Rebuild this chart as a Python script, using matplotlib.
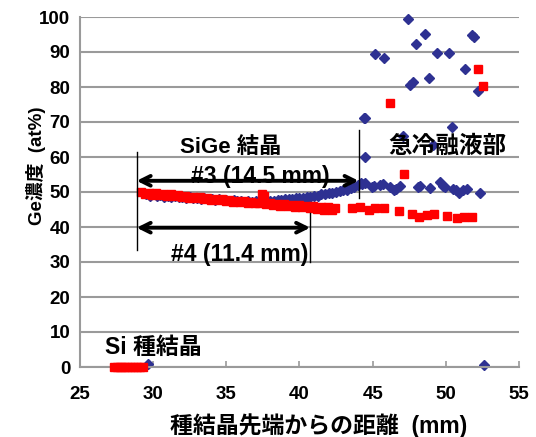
import matplotlib
matplotlib.use("Agg")
import matplotlib.pyplot as plt

plt.rcParams['font.family'] = ['Liberation Sans', 'Noto Sans CJK JP', 'DejaVu Sans']
plt.rcParams['font.weight'] = 'bold'

# ---- data ----
blue_dense_x = [29.5, 29.75, 30.0, 30.25, 30.5, 30.75, 31.0, 31.25, 31.5, 31.75,
                32.0, 32.25, 32.5, 32.75, 33.0, 33.25, 33.5, 33.75, 34.0, 34.25,
                34.5, 34.75, 35.0, 35.25, 35.5, 35.75, 36.0, 36.25, 36.5, 36.75,
                37.0, 37.25, 37.5, 37.75, 38.0, 38.25, 38.5, 38.75, 39.0, 39.25,
                39.5, 39.75, 40.0, 40.25, 40.5, 40.75, 41.0, 41.25, 41.5, 41.75,
                42.0, 42.25, 42.5, 42.75, 43.0, 43.25, 43.5, 43.75, 44.0, 44.2]
blue_dense_y = [49.4, 49.0, 49.3, 48.9, 49.1, 48.7, 49.0, 48.6, 48.9, 48.5,
                48.7, 48.4, 48.6, 48.2, 48.4, 48.1, 48.2, 47.9, 48.1, 47.7,
                47.9, 47.6, 47.8, 47.4, 47.6, 47.3, 47.5, 47.2, 47.4, 47.1,
                47.3, 47.1, 47.3, 47.3, 47.4, 47.5, 47.6, 47.7, 47.9, 47.9,
                48.1, 48.2, 48.4, 48.4, 48.7, 48.7, 49.0, 49.0, 49.3, 49.4,
                49.6, 49.7, 50.0, 50.2, 50.5, 50.7, 51.2, 51.5, 52.1, 52.5]

blue_sparse_x = [29.65, 52.6,
                 44.27, 44.5, 44.95, 45.1, 45.52, 45.7, 46.2, 46.43, 46.6, 46.9,
                 48.1, 48.26, 48.94, 49.58, 49.8, 49.97, 50.5, 50.7, 50.9, 51.2,
                 51.45, 52.36,
                 47.39, 45.18, 45.75, 47.98, 48.6, 49.4, 50.19, 51.79, 51.95, 51.33,
                 48.83, 47.57, 47.75, 52.18, 44.38, 44.5, 50.4, 47.1, 44.5, 49.1]
blue_sparse_y = [0.8, 0.5,
                 52.3, 52.6, 51.5, 51.7, 52.0, 52.2, 51.5, 50.6, 50.9, 51.7,
                 51.5, 51.7, 51.1, 52.9, 51.8, 51.5, 51.0, 50.5, 49.6, 50.5,
                 51.0, 49.8,
                 99.4, 89.3, 88.2, 92.4, 95.2, 89.6, 89.6, 94.9, 94.2, 85.2,
                 82.5, 80.6, 81.5, 78.9, 71.1, 71.1, 68.5, 66.0, 60.1, 63.5]

red_dense_x = [29.2, 29.45, 29.7, 29.95, 30.2, 30.45, 30.7, 30.95, 31.2, 31.45,
               31.7, 31.95, 32.2, 32.45, 32.7, 32.95, 33.2, 33.45, 33.7, 33.95,
               34.2, 34.45, 34.7, 34.95, 35.2, 35.45, 35.7, 35.95, 36.2, 36.45,
               36.7, 36.95, 37.2, 37.45, 37.6, 37.7, 37.95, 38.2, 38.45, 38.7,
               38.95, 39.2, 39.45, 39.7, 39.95, 40.2, 40.45, 40.7, 40.95, 41.2,
               41.45, 41.7, 41.95, 42.2, 42.45]
red_dense_y = [49.9, 49.4, 49.8, 49.2, 49.6, 49.1, 49.5, 48.9, 49.3, 48.8,
               49.1, 48.6, 48.9, 48.4, 48.7, 48.2, 48.5, 48.0, 48.3, 47.8,
               48.1, 47.6, 47.9, 47.4, 47.7, 47.2, 47.5, 47.1, 47.3, 46.9,
               47.2, 46.8, 47.0, 49.3, 49.0, 46.6, 46.9, 46.4, 46.7, 46.1,
               46.5, 46.0, 46.3, 45.8, 46.4, 45.6, 46.1, 45.4, 46.0, 45.2,
               45.8, 45.0, 45.6, 44.8, 45.3]

red_seed_x = [27.3, 27.5, 27.7, 27.9, 28.1, 28.3, 28.5, 28.7, 28.9, 29.1, 29.3]
red_seed_y = [0, 0, 0, 0, 0, 0, 0, 0, 0, 0, 0]

red_sparse_x = [43.58, 44.15, 44.72, 45.18, 45.75, 46.77, 47.69, 48.14, 48.71, 49.17,
                50.08, 50.77, 51.22, 51.79, 47.16, 46.2, 52.2, 52.54]
red_sparse_y = [45.3, 45.8, 44.9, 45.5, 45.3, 44.6, 43.7, 42.9, 43.4, 43.7,
                43.2, 42.5, 42.8, 42.8, 55.1, 75.3, 85.1, 80.2]

x_ticks = [25, 30, 35, 40, 45, 50, 55]
y_ticks = [0, 10, 20, 30, 40, 50, 60, 70, 80, 90, 100]

BLUE = '#2E3192'
RED = '#FF0000'

fig = plt.figure(figsize=(5.36, 4.37), dpi=100)
ax = fig.add_axes([80/536, 1-367/437, 439/536, 350/437])

ax.set_xlim(25, 55)
ax.set_ylim(0, 100)
ax.set_xticks(x_ticks)
ax.set_yticks(y_ticks)
ax.yaxis.grid(True, color='#9a9a9a', lw=1.5)
ax.set_axisbelow(True)
for s in ['top', 'right']:
    ax.spines[s].set_visible(False)
for s in ['left', 'bottom']:
    ax.spines[s].set_color('#9a9a9a')
    ax.spines[s].set_linewidth(1.5)
ax.tick_params(axis='x', direction='in', length=4, color='#9a9a9a', width=1.2,
               labelsize=13.5, pad=14)
ax.tick_params(axis='y', length=0, labelsize=13.5, pad=7)
for lab in ax.get_xticklabels() + ax.get_yticklabels():
    lab.set_fontweight('bold')

MS_B = 4.8
MS_R = 5.4
ax.plot(blue_dense_x, blue_dense_y, 'D', color=BLUE, ms=MS_B, ls='none', clip_on=False)
ax.plot(blue_sparse_x, blue_sparse_y, 'D', color=BLUE, ms=MS_B, ls='none', clip_on=False)
ax.plot(red_dense_x, red_dense_y, 's', color=RED, ms=MS_R, ls='none', clip_on=False)
ax.plot(red_sparse_x, red_sparse_y, 's', color=RED, ms=MS_R, ls='none', clip_on=False)
ax.plot(red_seed_x, red_seed_y, 's', color=RED, ms=MS_R, ls='none', clip_on=False, zorder=5)

ax.set_xlabel('種結晶先端からの距離  (mm)', fontsize=16.5, fontweight='bold')
ax.set_ylabel('Ge濃度  (at%)', fontsize=13.5, fontweight='bold')
ax.xaxis.set_label_coords(0.544, -0.132)
ax.yaxis.set_label_coords(-0.077, 0.574)

# annotations
ax.text(35.3, 62.6, 'SiGe 結晶', fontsize=16, fontweight='bold', ha='center', va='center')
ax.text(37.3, 54.3, '#3 (14.5 mm)', fontsize=16.5, fontweight='bold', ha='center', va='center')
ax.text(35.9, 32.0, '#4 (11.4 mm)', fontsize=16.5, fontweight='bold', ha='center', va='center')
ax.text(50.1, 63.1, '急冷融液部', fontsize=17, fontweight='bold', ha='center', va='center')
ax.text(30.0, 5.7, 'Si 種結晶', fontsize=16.5, fontweight='bold', ha='center', va='center')

arrow_kw = dict(arrowstyle='<->,head_length=0.7,head_width=0.35', lw=2.8, color='black',
                shrinkA=0, shrinkB=0)
ax.annotate('', xy=(44.04, 53.2), xytext=(28.87, 53.2), arrowprops=arrow_kw)
ax.annotate('', xy=(40.73, 39.8), xytext=(28.87, 39.8), arrowprops=arrow_kw)

ax.plot([28.87, 28.87], [33.4, 61.5], color='black', lw=1)
ax.plot([44.04, 44.04], [48.3, 67.7], color='black', lw=1)
ax.plot([40.73, 40.73], [30.1, 44.0], color='black', lw=1)

fig.savefig('out.png', dpi=100)
